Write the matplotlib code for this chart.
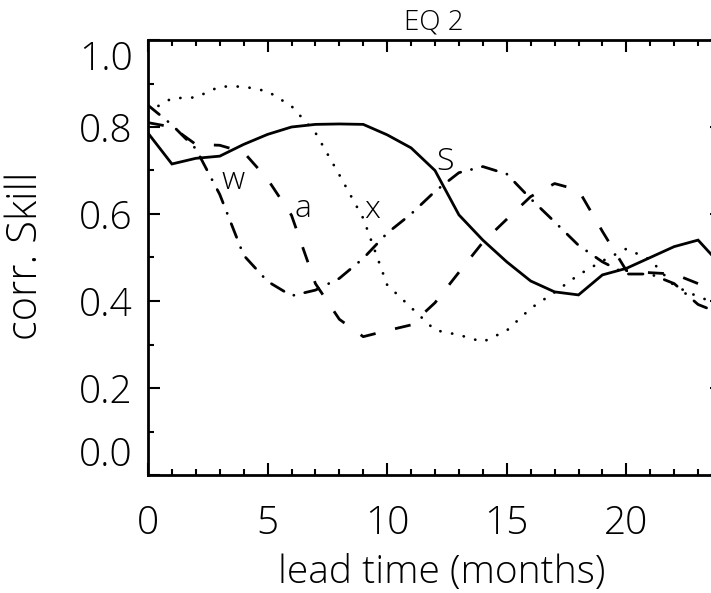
import matplotlib
matplotlib.use("Agg")
import matplotlib.pyplot as plt
from matplotlib.ticker import MultipleLocator

# lead time in months
meses = list(range(25))

# correlation skill per experiment
skill_s = [0.786, 0.715, 0.728, 0.733, 0.760, 0.783, 0.800, 0.806, 0.807, 0.806,
           0.782, 0.752, 0.700, 0.598, 0.540, 0.490, 0.446, 0.421, 0.414, 0.460,
           0.475, 0.500, 0.525, 0.540, 0.480]
skill_x = [0.835, 0.866, 0.868, 0.893, 0.893, 0.882, 0.848, 0.787, 0.690, 0.590,
           0.437, 0.385, 0.333, 0.322, 0.306, 0.332, 0.383, 0.420, 0.460, 0.492,
           0.520, 0.495, 0.435, 0.410, 0.390]
skill_a = [0.810, 0.800, 0.760, 0.758, 0.742, 0.680, 0.597, 0.440, 0.358, 0.318,
           0.332, 0.345, 0.396, 0.466, 0.535, 0.588, 0.640, 0.670, 0.655, 0.560,
           0.470, 0.465, 0.462, 0.440, 0.420]
skill_w = [0.850, 0.805, 0.750, 0.645, 0.505, 0.445, 0.412, 0.425, 0.452, 0.498,
           0.556, 0.600, 0.652, 0.695, 0.709, 0.692, 0.635, 0.582, 0.528, 0.490,
           0.462, 0.462, 0.440, 0.392, 0.370]

# label text and where it sits (lead, skill)
etiquetas = ["w", "a", "x", "S"]
etiq_x = [3.56, 6.49, 9.37, 12.43]
etiq_y = [0.676, 0.611, 0.609, 0.720]

xticks = [0, 5, 10, 15, 20]
yticks = [0.0, 0.2, 0.4, 0.6, 0.8, 1.0]

plt.rcParams["font.family"] = ["Open Sans", "DejaVu Sans"]
plt.rcParams["font.weight"] = "light"
plt.rcParams["lines.scale_dashes"] = False

fig = plt.figure(figsize=(7.11, 5.93), dpi=100)
ax = fig.add_axes([148 / 711, 118 / 593, 574 / 711, 435 / 593])

lw = 2.0
ax.plot(meses, skill_s, color="black", lw=lw, solid_joinstyle="miter")
ax.plot(meses, skill_x, color="black", lw=lw, dashes=(0.1, 8.5),
        dash_capstyle="round")
ax.plot(meses, skill_a, color="black", lw=lw, dashes=(11.5, 14.4))
ax.plot(meses, skill_w, color="black", lw=lw, dashes=(10.5, 8.0, 0.1, 8.0),
        dash_capstyle="round")

for t, xx, yy in zip(etiquetas, etiq_x, etiq_y):
    ax.text(xx, yy, t, ha="center", va="center", fontsize=23)

ax.set_xlim(0, 24)
ax.set_ylim(0, 1.0)
ax.set_xticks(xticks)
ax.set_xticklabels([str(v) for v in xticks])
ax.set_yticks(yticks)
ax.set_yticklabels([f"{v:.1f}" for v in yticks])
ax.xaxis.set_minor_locator(MultipleLocator(1))
ax.yaxis.set_minor_locator(MultipleLocator(0.1))

ax.tick_params(which="both", direction="in", top=True, right=True,
               width=1.5, labelsize=28)
ax.tick_params(which="major", length=8.6)
ax.tick_params(which="minor", length=4.3)
ax.tick_params(axis="x", pad=21)
ax.tick_params(axis="y", pad=11)
for s in ax.spines.values():
    s.set_linewidth(2.0)

# end labels pulled inside the axis range
ticks_y = ax.yaxis.get_major_ticks()
ticks_y[0].label1.set_verticalalignment("bottom")
ticks_y[-1].label1.set_verticalalignment("top")

fig.text(434 / 711, 1 - 29 / 593, "EQ 2", ha="center", va="baseline",
         fontsize=20)
fig.text(26 / 711, 1 - 256 / 593, "corr. Skill", rotation=90,
         ha="center", va="center", fontsize=30)
fig.text(442 / 711, 1 - 583 / 593, "lead time (months)", ha="center",
         va="baseline", fontsize=28)

fig.savefig("out.png", dpi=100)
